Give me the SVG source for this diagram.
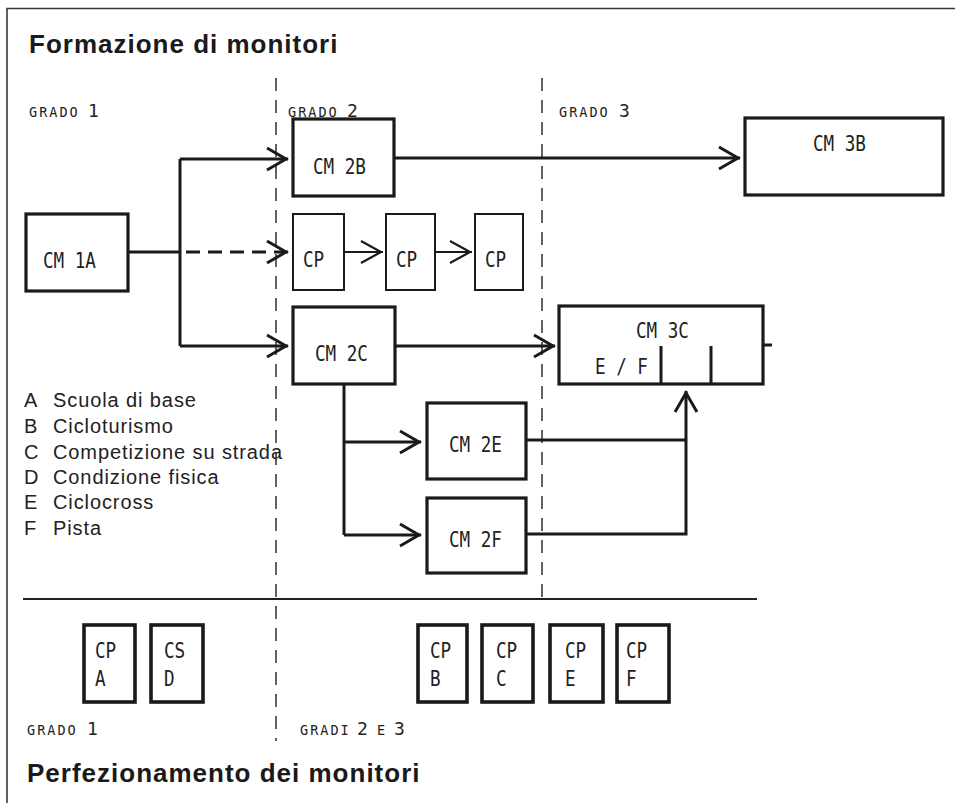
<svg xmlns="http://www.w3.org/2000/svg" width="955" height="803" viewBox="0 0 955 803">
  <style>
    .frame { fill: none; stroke: #3a3a3a; stroke-width: 1.6; }
    .box { fill: #fff; stroke: #1a1a1a; stroke-width: 3.2; }
    .thin { fill: #fff; stroke: #1a1a1a; stroke-width: 2; }
    .small { fill: #fff; stroke: #1a1a1a; stroke-width: 3.6; }
    .wire { fill: none; stroke: #1a1a1a; stroke-width: 3; }
    .wire2 { fill: none; stroke: #1a1a1a; stroke-width: 2; }
    .dash { fill: none; stroke: #1a1a1a; stroke-width: 3; stroke-dasharray: 14 8; }
    .grid { fill: none; stroke: #222; stroke-width: 1.4; stroke-dasharray: 13 9; }
    .rule { fill: none; stroke: #222; stroke-width: 2; }
    .title { font-family: "Liberation Sans", Arial, sans-serif; font-weight: bold; font-size: 26px; letter-spacing: 1px; fill: #1a1a1a; }
    .legend { font-family: "Liberation Sans", Arial, sans-serif; font-size: 20px; letter-spacing: 0.9px; fill: #222; }
    .m { font-family: "DejaVu Sans Mono", "Liberation Mono", monospace; font-size: 22px; fill: #222; }
    .sc { font-family: "DejaVu Sans Mono", "Liberation Mono", monospace; font-size: 13.5px; letter-spacing: 2px; fill: #222; }
    .dg { font-family: "DejaVu Sans Mono", "Liberation Mono", monospace; font-size: 18px; letter-spacing: 0; fill: #222; }
  </style>
  <defs>
    <marker id="ah" markerUnits="userSpaceOnUse" markerWidth="30" markerHeight="30" viewBox="-26 -15 30 30" refX="0" refY="0" orient="auto" overflow="visible">
      <path d="M-21,-11 L-2,0 L-21,11" fill="none" stroke="#1a1a1a" stroke-width="3"/>
    </marker>
    <marker id="ah2" markerUnits="userSpaceOnUse" markerWidth="30" markerHeight="30" viewBox="-26 -15 30 30" refX="0" refY="0" orient="auto" overflow="visible">
      <path d="M-22,-11 L-2,0 L-22,11" fill="none" stroke="#1a1a1a" stroke-width="2.2"/>
    </marker>
  </defs>

  <rect width="955" height="803" fill="#fff"/>

  <!-- page frame -->
  <path class="frame" d="M7,803 V8.5 H955"/>

  <!-- headings -->
  <text class="title" x="29" y="53">Formazione di monitori</text>
  <text class="title" x="27" y="782">Perfezionamento dei monitori</text>

  <!-- grade columns and lower rule -->
  <g id="grid">
    <line class="grid" x1="276" y1="78" x2="276" y2="741"/>
    <line class="grid" x1="542" y1="78" x2="542" y2="598"/>
    <line class="rule" x1="23" y1="599" x2="757" y2="599"/>
  </g>

  <!-- grade labels -->
  <g id="grades">
    <text y="117"><tspan class="sc" x="29">GRADO</tspan> <tspan class="dg" x="88">1</tspan></text>
    <text y="117"><tspan class="sc" x="288">GRADO</tspan> <tspan class="dg" x="347">2</tspan></text>
    <text y="117"><tspan class="sc" x="559">GRADO</tspan> <tspan class="dg" x="619">3</tspan></text>
    <text y="735"><tspan class="sc" x="27">GRADO</tspan> <tspan class="dg" x="87">1</tspan></text>
    <text y="735"><tspan class="sc" x="300">GRADI</tspan> <tspan class="dg" x="357">2</tspan> <tspan class="sc" x="377">E</tspan> <tspan class="dg" x="394">3</tspan></text>
  </g>

  <!-- legend -->
  <g id="legend" class="legend">
    <text y="407"><tspan x="24">A</tspan><tspan x="53">Scuola di base</tspan></text>
    <text y="433"><tspan x="24">B</tspan><tspan x="53">Cicloturismo</tspan></text>
    <text y="459"><tspan x="24">C</tspan><tspan x="53">Competizione su strada</tspan></text>
    <text y="484"><tspan x="24">D</tspan><tspan x="53">Condizione fisica</tspan></text>
    <text y="509"><tspan x="24">E</tspan><tspan x="53">Ciclocross</tspan></text>
    <text y="535"><tspan x="24">F</tspan><tspan x="53">Pista</tspan></text>
  </g>

  <!-- connectors -->
  <g id="connectors">
    <path class="wire" d="M128,252 H180"/>
    <path class="dash" d="M186,252 H288" marker-end="url(#ah)"/>
    <path class="wire" d="M180,159 V346"/>
    <path class="wire" d="M180,159 H288" marker-end="url(#ah)"/>
    <path class="wire" d="M180,346 H288" marker-end="url(#ah)"/>
    <path class="wire" d="M394,158 H740" marker-end="url(#ah)"/>
    <path class="wire2" d="M344,252 H383" marker-end="url(#ah2)"/>
    <path class="wire2" d="M435,252 H472" marker-end="url(#ah2)"/>
    <path class="wire" d="M395,346 H555" marker-end="url(#ah)"/>
    <path class="wire" d="M344,384 V535"/>
    <path class="wire" d="M344,442 H421" marker-end="url(#ah)"/>
    <path class="wire" d="M344,535 H421" marker-end="url(#ah)"/>
    <path class="wire" d="M526,440 H686"/>
    <path class="wire" d="M526,534 H686 V391" marker-end="url(#ah)"/>
    <path class="wire" d="M763,345 H772"/>
  </g>

  <!-- training courses -->
  <g id="cm1a">
    <rect class="box" x="26" y="214" width="102" height="77"/>
    <text class="m" transform="translate(43,268) scale(0.8,1)">CM 1A</text>
  </g>
  <g id="cm2b">
    <rect class="box" x="293" y="119" width="101" height="77"/>
    <text class="m" transform="translate(313,174) scale(0.8,1)">CM 2B</text>
  </g>
  <g id="cm3b">
    <rect class="box" x="745" y="118" width="198" height="77"/>
    <text class="m" transform="translate(813,151) scale(0.8,1)">CM 3B</text>
  </g>
  <g id="cp1">
    <rect class="thin" x="293" y="214" width="51" height="76"/>
    <text class="m" transform="translate(303,267) scale(0.8,1)">CP</text>
  </g>
  <g id="cp2">
    <rect class="thin" x="386" y="214" width="49" height="76"/>
    <text class="m" transform="translate(396,267) scale(0.8,1)">CP</text>
  </g>
  <g id="cp3">
    <rect class="thin" x="475" y="214" width="48" height="76"/>
    <text class="m" transform="translate(485,267) scale(0.8,1)">CP</text>
  </g>
  <g id="cm2c">
    <rect class="box" x="293" y="307" width="102" height="77"/>
    <text class="m" transform="translate(315,361) scale(0.8,1)">CM 2C</text>
  </g>
  <g id="cm3c">
    <rect class="box" x="559" y="306" width="204" height="78"/>
    <path class="wire" d="M661,346 V384 M711,346 V384"/>
    <text class="m" transform="translate(636,338) scale(0.8,1)">CM 3C</text>
    <text class="m" transform="translate(595,374) scale(0.8,1)">E / F</text>
  </g>
  <g id="cm2e">
    <rect class="box" x="427" y="403" width="99" height="76"/>
    <text class="m" transform="translate(449,452) scale(0.8,1)">CM 2E</text>
  </g>
  <g id="cm2f">
    <rect class="box" x="427" y="498" width="99" height="75"/>
    <text class="m" transform="translate(449,547) scale(0.8,1)">CM 2F</text>
  </g>

  <!-- refresher courses -->
  <g id="cpa">
    <rect class="small" x="84" y="625" width="51" height="77"/>
    <text class="m" transform="translate(95,658) scale(0.8,1)">CP</text>
    <text class="m" transform="translate(95,686) scale(0.8,1)">A</text>
  </g>
  <g id="csd">
    <rect class="small" x="151" y="625" width="52" height="77"/>
    <text class="m" transform="translate(164,658) scale(0.8,1)">CS</text>
    <text class="m" transform="translate(164,686) scale(0.8,1)">D</text>
  </g>
  <g id="cpb">
    <rect class="small" x="418" y="625" width="49" height="77"/>
    <text class="m" transform="translate(430,658) scale(0.8,1)">CP</text>
    <text class="m" transform="translate(430,686) scale(0.8,1)">B</text>
  </g>
  <g id="cpc">
    <rect class="small" x="482" y="625" width="51" height="77"/>
    <text class="m" transform="translate(496,658) scale(0.8,1)">CP</text>
    <text class="m" transform="translate(496,686) scale(0.8,1)">C</text>
  </g>
  <g id="cpe">
    <rect class="small" x="550" y="625" width="53" height="77"/>
    <text class="m" transform="translate(565,658) scale(0.8,1)">CP</text>
    <text class="m" transform="translate(565,686) scale(0.8,1)">E</text>
  </g>
  <g id="cpf">
    <rect class="small" x="617" y="625" width="52" height="77"/>
    <text class="m" transform="translate(626,658) scale(0.8,1)">CP</text>
    <text class="m" transform="translate(626,686) scale(0.8,1)">F</text>
  </g>
</svg>
